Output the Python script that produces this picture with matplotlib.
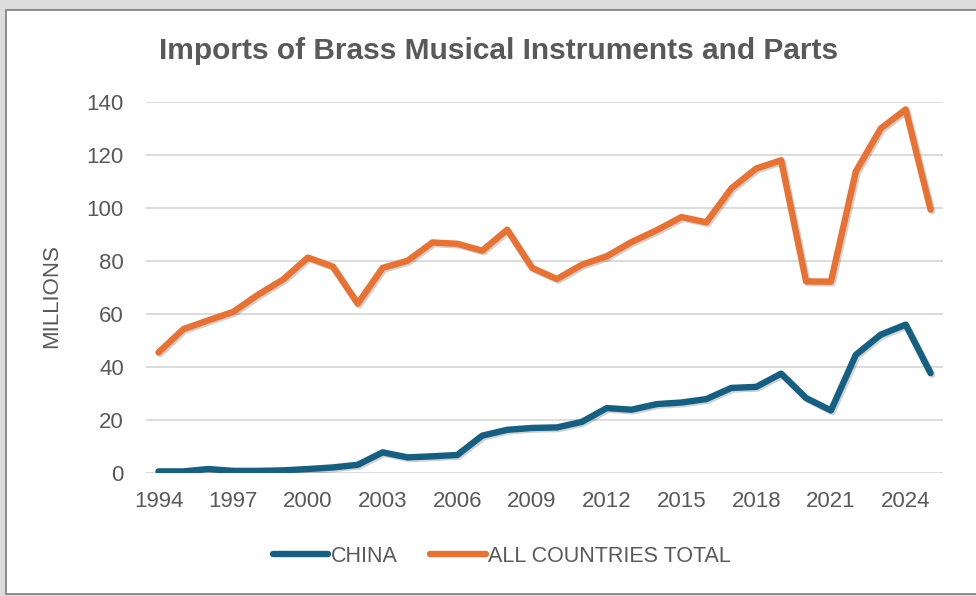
import matplotlib
matplotlib.use("Agg")
import matplotlib.pyplot as plt
import matplotlib.patheffects as pe
from matplotlib.patches import Rectangle

years = list(range(1994, 2026))
china = [0.6, 0.6, 1.5, 0.8, 0.8, 1.0, 1.5, 2.1, 3.1, 7.8, 5.9, 6.3, 6.8, 14.1, 16.3, 17.0,
         17.2, 19.3, 24.5, 23.9, 26.0, 26.6, 27.9, 32.1, 32.5, 37.5, 28.3, 23.6, 44.6, 52.2, 56.0, 37.7]
total = [45.5, 54.3, 57.6, 60.8, 67.3, 73.0, 81.3, 77.9, 63.9, 77.4, 80.1, 87.0, 86.5, 83.9, 91.8, 77.4,
         73.2, 78.6, 81.8, 87.2, 91.6, 96.6, 94.6, 107.4, 114.9, 118.0, 72.3, 72.2, 113.8, 130.0, 137.2, 99.4]
xticks = list(range(1994, 2025, 3))
yticks = [0, 20, 40, 60, 80, 100, 120, 140]

BLUE = '#156082'
ORANGE = '#E97132'
GREY_TXT = '#595959'
GRID = '#d9d9d9'

plt.rcParams['font.family'] = ['Liberation Sans', 'DejaVu Sans']

fig = plt.figure(figsize=(9.76, 5.96), dpi=100)
fig.patch.set_facecolor('#dcdcdc')

# chart frame (white area with grey border, like the Excel chart box)
W, H = 976, 596
fig.patches.append(Rectangle((6 / W, 2 / H), 1.0, 1 - 12 / H, transform=fig.transFigure,
                             facecolor='white', edgecolor='#8c8c8c', lw=1.4, zorder=-10))

ax = fig.add_axes([146 / W, 1 - 473 / H, (943 - 146) / W, (473 - 102) / H])
ax.set_facecolor('none')

shadow = [pe.SimpleLineShadow(offset=(1.2, -1.2), alpha=0.18, shadow_color='black'), pe.Normal()]
ax.plot(years, china, color=BLUE, lw=4.6, solid_capstyle='round', solid_joinstyle='round',
        label='CHINA', path_effects=shadow, zorder=3)
ax.plot(years, total, color=ORANGE, lw=4.6, solid_capstyle='round', solid_joinstyle='round',
        label='ALL COUNTRIES TOTAL', path_effects=shadow, zorder=3)

ax.set_xlim(1993.5, 2025.5)
ax.set_ylim(0, 140)
ax.set_xticks(xticks)
ax.set_yticks(yticks)
ax.tick_params(axis='both', length=0, labelsize=16, labelcolor=GREY_TXT)
ax.tick_params(axis='x', pad=13)
ax.tick_params(axis='y', pad=16)
ax.grid(axis='y', color=GRID, lw=1.3, zorder=0)
ax.set_axisbelow(True)
for s in ax.spines.values():
    s.set_visible(False)

ax.set_ylabel('MILLIONS', fontsize=16, color=GREY_TXT, va='center')
ax.yaxis.set_label_coords(-0.118, 0.477)

fig.text(0.511, 1 - 51 / H, 'Imports of Brass Musical Instruments and Parts',
         ha='center', va='center', fontsize=21.5, fontweight='bold', color=GREY_TXT)

leg = fig.legend(loc='center', bbox_to_anchor=(0.514, 1 - 556 / H), ncol=2, frameon=False,
                 fontsize=15.5, handlelength=2.6, handletextpad=0.1, columnspacing=1.5)
for t in leg.get_texts():
    t.set_color(GREY_TXT)
for h in leg.get_lines():
    h.set_path_effects([])

fig.savefig('out.png', dpi=100, facecolor=fig.get_facecolor())
